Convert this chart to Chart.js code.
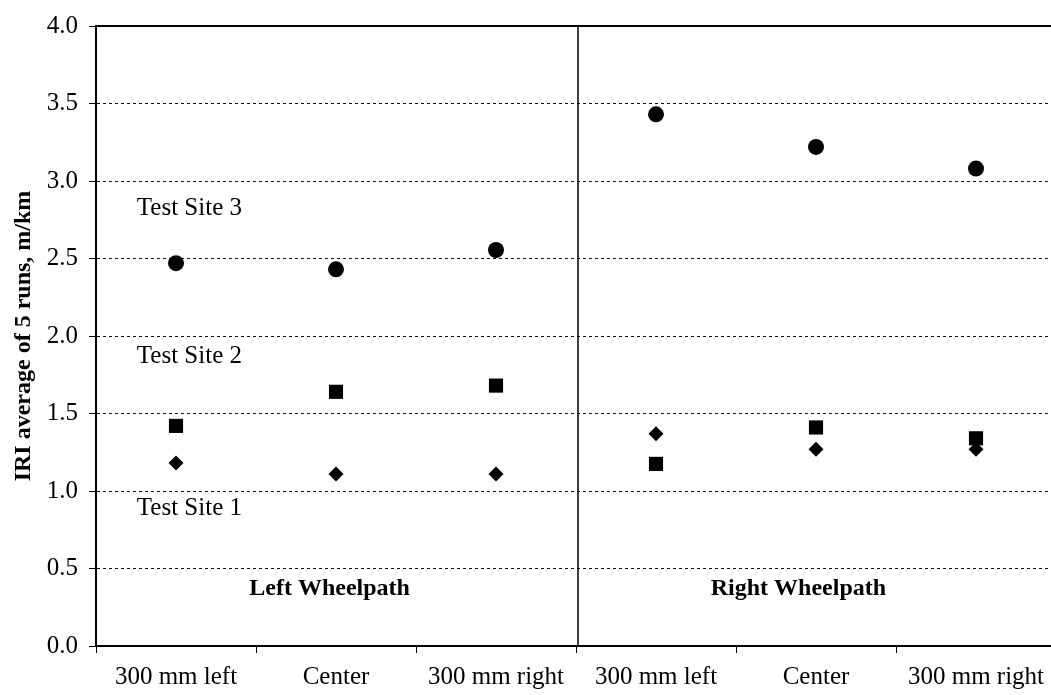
<!doctype html>
<html>
<head>
    <title>IRI by wheelpath</title>
    <script src="https://cdn.jsdelivr.net/npm/chart.js@4.4.1/dist/chart.umd.min.js"></script>
    <style>
        html, body {
            margin: 0;
            padding: 0;
            overflow: hidden;
            background: #fff;
        }
        .chart-box {
            position: relative;
            width: 1066px;
            height: 695px;
        }
    </style>
</head>
<body>
    <div class="chart-box">
        <canvas id="canvas"></canvas>
    </div>
    <script>
        // categories along the x axis
        let positions = ['300 mm left', 'Center', '300 mm right', '300 mm left', 'Center', '300 mm right'];
        // IRI average of 5 runs, m/km
        let site1 = [1.18, 1.11, 1.11, 1.37, 1.27, 1.27];
        let site2 = [1.42, 1.64, 1.68, 1.175, 1.41, 1.34];
        let site3 = [2.47, 2.43, 2.555, 3.43, 3.22, 3.08];
        // text placed in data space: x = category index, y = IRI
        let siteLabels = ['Test Site 1', 'Test Site 2', 'Test Site 3'];
        let siteLabelX = [-0.245, -0.245, -0.245];
        let siteLabelY = [0.89, 1.87, 2.82];
        let pathLabels = ['Left Wheelpath', 'Right Wheelpath'];
        let pathLabelX = [0.96, 3.89];
        let pathLabelY = [0.37, 0.37];

        const serif = "'Liberation Serif', 'Times New Roman', serif";

        // frame lines, wheelpath divider and text notes
        const decorations = {
            id: 'decorations',
            beforeDatasetsDraw(chart) {
                const ctx = chart.ctx;
                const x = chart.scales.x;
                const y = chart.scales.y;
                const area = chart.chartArea;
                ctx.save();
                ctx.strokeStyle = '#000';
                ctx.setLineDash([]);
                // top line at 4.0
                ctx.lineWidth = 2;
                ctx.beginPath();
                ctx.moveTo(area.left, y.getPixelForValue(4));
                ctx.lineTo(area.right, y.getPixelForValue(4));
                ctx.stroke();
                // divider between the two wheelpaths
                let xd = (x.getPixelForValue(2) + x.getPixelForValue(3)) / 2 + 2;
                ctx.lineWidth = 1.5;
                ctx.beginPath();
                ctx.moveTo(xd, area.top);
                ctx.lineTo(xd, area.bottom);
                ctx.stroke();
                ctx.restore();
            },
            afterDraw(chart) {
                const ctx = chart.ctx;
                const x = chart.scales.x;
                const y = chart.scales.y;
                ctx.save();
                ctx.fillStyle = '#000';
                ctx.textBaseline = 'middle';
                ctx.font = '25px ' + serif;
                ctx.textAlign = 'left';
                for (let i = 0; i < siteLabels.length; i++) {
                    ctx.fillText(siteLabels[i], x.getPixelForValue(siteLabelX[i]), y.getPixelForValue(siteLabelY[i]));
                }
                ctx.font = 'bold 24px ' + serif;
                ctx.textAlign = 'center';
                for (let i = 0; i < pathLabels.length; i++) {
                    ctx.fillText(pathLabels[i], x.getPixelForValue(pathLabelX[i]), y.getPixelForValue(pathLabelY[i]));
                }
                ctx.restore();
            }
        };

        let chartData = {
            labels: positions,
            datasets: [{
                label: 'Test Site 1',
                data: site1,
                pointStyle: 'rectRot',
                pointRadius: 7.5,
                backgroundColor: '#000',
                borderColor: '#000',
                borderWidth: 0
            }, {
                label: 'Test Site 2',
                data: site2,
                pointStyle: 'rect',
                pointRadius: 10,
                backgroundColor: '#000',
                borderColor: '#000',
                borderWidth: 0
            }, {
                label: 'Test Site 3',
                data: site3,
                pointStyle: 'circle',
                pointRadius: 8,
                backgroundColor: '#000',
                borderColor: '#000',
                borderWidth: 0
            }]
        };

        const ctx = document.getElementById('canvas').getContext('2d');
        window.myChart = new Chart(ctx, {
            type: 'line',
            data: chartData,
            plugins: [decorations],
            options: {
                responsive: true,
                maintainAspectRatio: false,
                animation: false,
                showLine: false,
                layout: {
                    padding: { top: 23, right: 4, bottom: 0, left: 0 }
                },
                plugins: {
                    legend: { display: false },
                    tooltip: { enabled: false }
                },
                elements: {
                    point: { hoverRadius: 8 }
                },
                scales: {
                    x: {
                        type: 'category',
                        offset: true,
                        grid: {
                            offset: true,
                            drawOnChartArea: false,
                            drawTicks: true,
                            tickLength: 7,
                            tickColor: '#000',
                            tickWidth: 1
                        },
                        border: { display: true, color: '#000', width: 2 },
                        ticks: {
                            color: '#000',
                            padding: 9,
                            maxRotation: 0,
                            autoSkip: false,
                            font: { family: serif, size: 25 }
                        },
                        afterFit(scale) { scale.height = 49; }
                    },
                    y: {
                        min: 0,
                        max: 4,
                        title: {
                            display: true,
                            text: 'IRI average of 5 runs, m/km',
                            color: '#000',
                            padding: { top: 9, bottom: 0 },
                            font: { family: serif, size: 24, weight: 'bold' }
                        },
                        grid: {
                            color: c => (c.tick && c.tick.value > 0 && c.tick.value < 4) ? '#111' : 'rgba(0,0,0,0)',
                            lineWidth: 1,
                            drawTicks: true,
                            tickLength: 7,
                            tickColor: '#000',
                            tickWidth: 1
                        },
                        border: { display: true, color: '#000', width: 2, dash: [3, 3] },
                        ticks: {
                            stepSize: 0.5,
                            color: '#000',
                            padding: 11,
                            font: { family: serif, size: 25 },
                            callback: v => v.toFixed(1)
                        },
                        afterFit(scale) { scale.width = 96; }
                    }
                }
            }
        });
    </script>
</body>
</html>
